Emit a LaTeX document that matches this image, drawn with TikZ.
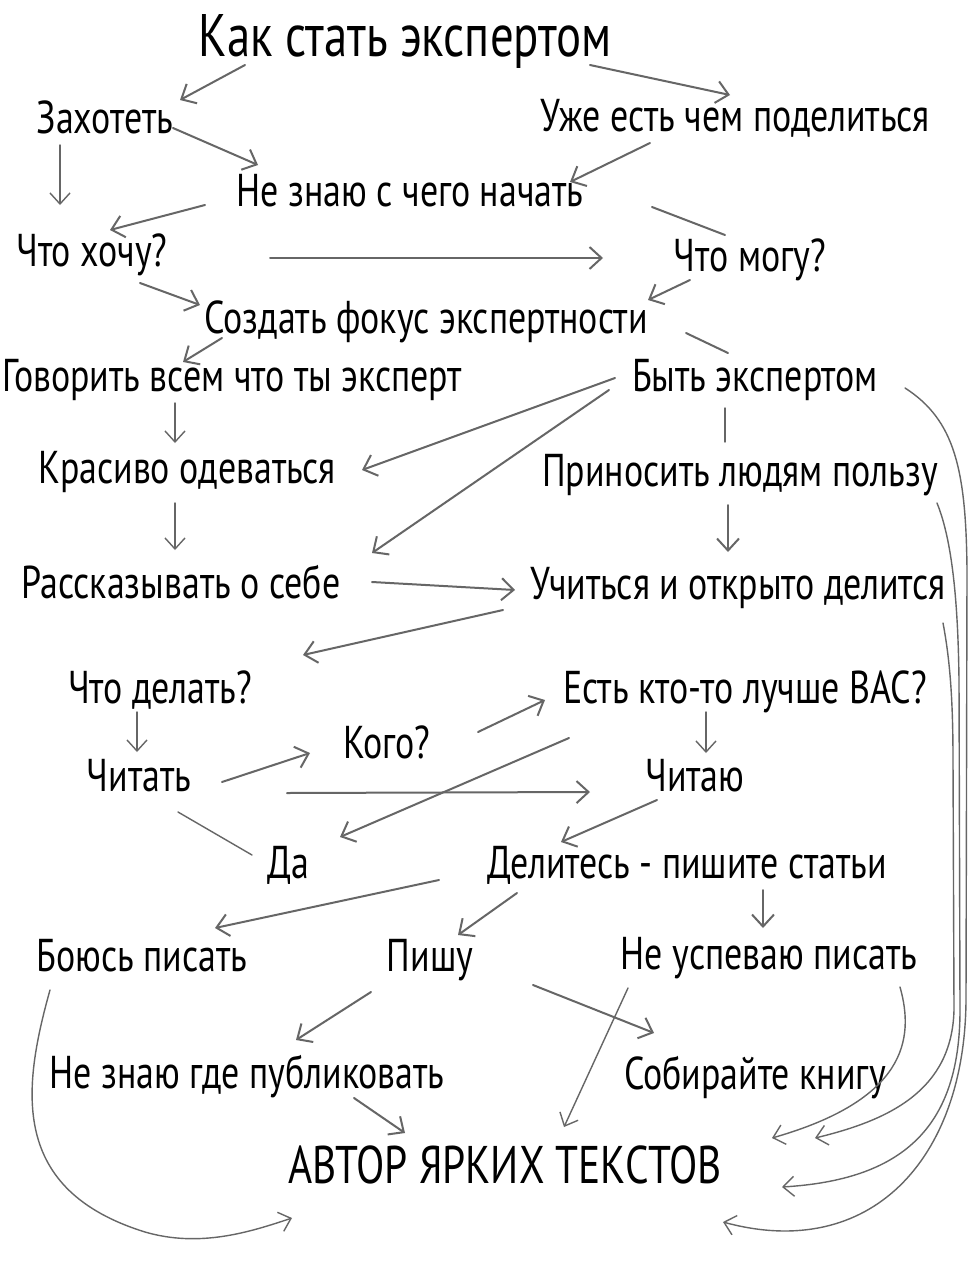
\documentclass[tikz,border=0pt]{standalone}
\usepackage{fontspec}
\setmainfont{PT Sans}[FakeStretch=0.78]
\usetikzlibrary{arrows.meta,calc}
\begin{document}
\begin{tikzpicture}[x=1pt,y=-1pt,
  lab/.style={inner sep=0pt, font=\fontsize{46}{50}\selectfont, text height=32pt, text depth=0pt},
  big/.style={inner sep=0pt, font=\fontsize{60}{66}\selectfont, text height=42pt, text depth=0pt},
  caps/.style={inner sep=0pt, font=\fontsize{53}{58}\selectfont, text height=37pt, text depth=0pt},
  arr/.style={draw=black!60, line width=2pt, line cap=round, -{Straight Barb[length=12pt,width=22pt]}},
  thin/.style={draw=black!60, line width=1.4pt, line cap=round, -{Straight Barb[length=11pt,width=20pt]}},
  ln/.style={draw=black!60, line width=2pt, line cap=round}]
\useasboundingbox (0,0) rectangle (972,1280);
\fill[white] (0,0) rectangle (972,1280);

% nodes
\node[big] (title) at (405,35) {Как стать экспертом};
\node[lab] (zah) at (105,117) {Захотеть};
\node[lab] (uzhe) at (735,115) {Уже есть чем поделиться};
\node[lab] (nz) at (410,190) {Не знаю с чего начать};
\node[lab] (hochu) at (92,250) {Что хочу?};
\node[lab] (mogu) at (750,255) {Что могу?};
\node[lab] (fokus) at (426,317) {Создать фокус экспертности};
\node[lab] (govor) at (232,375) {Говорить всем что ты эксперт};
\node[lab] (byt) at (755,375) {Быть экспертом};
\node[lab] (kras) at (187,467) {Красиво одеваться};
\node[lab] (prin) at (740,470) {Приносить людям пользу};
\node[lab] (rass) at (181,582) {Рассказывать о себе};
\node[lab] (uch) at (738,583) {Учиться и открыто делится};
\node[lab] (chdel) at (160,687) {Что делать?};
\node[lab] (est) at (745,687) {Есть кто-то лучше ВАС?};
\node[lab] (kogo) at (387,742) {Кого?};
\node[lab] (chitat) at (139,775) {Читать};
\node[lab] (chitayu) at (695,775) {Читаю};
\node[lab] (da) at (288,862) {Да};
\node[lab] (delit) at (687,862) {Делитесь - пишите статьи};
\node[lab] (boyus) at (142,955) {Боюсь писать};
\node[lab] (pishu) at (430,955) {Пишу};
\node[lab] (neusp) at (769,953) {Не успеваю писать};
\node[lab] (nzgde) at (247,1072) {Не знаю где публиковать};
\node[lab] (sobir) at (755,1073) {Собирайте книгу};
\node[caps] (avtor) at (505,1165) {АВТОР ЯРКИХ ТЕКСТОВ};

% connectors
\draw[arr] ($(title)+(-160,30)$) -- ($(zah)+(75,-17)$);
\draw[arr] ($(title)+(185,30)$) -- ($(uzhe)+(-5,-20)$);
\draw[arr] ($(zah)+(68,11)$) -- ($(nz)+(-152,-25)$);
\draw[thin] ($(zah)+(-45,28)$) -- ($(hochu)+(-32,-45)$);
\draw[arr] ($(uzhe)+(-85,28)$) -- ($(nz)+(160,-8)$);
\draw[arr] ($(nz)+(-205,15)$) -- ($(hochu)+(18,-20)$);
\draw[ln] ($(nz)+(242,17)$) -- ($(mogu)+(-25,-20)$);
\draw[arr] ($(hochu)+(178,8)$) -- ($(mogu)+(-147,3)$);
\draw[arr] ($(hochu)+(48,33)$) -- ($(fokus)+(-226,-12)$);
\draw[arr] ($(mogu)+(-60,25)$) -- ($(fokus)+(222,-17)$);
\draw[arr] ($(fokus)+(-204,21)$) -- ($(govor)+(-49,-13)$);
\draw[ln] ($(fokus)+(260,16)$) -- ($(byt)+(-27,-22)$);
\draw[thin] ($(govor)+(-57,28)$) -- ($(kras)+(-12,-24)$);
\draw[arr] ($(byt)+(-140,3)$) -- ($(kras)+(175,3)$);
\draw[arr] ($(byt)+(-146,15)$) -- ($(rass)+(191,-29)$);
\draw[thin,-] ($(byt)+(-30,33)$) -- ($(prin)+(-15,-28)$);
\draw[thin] ($(kras)+(-12,36)$) -- ($(rass)+(-6,-32)$);
\draw[arr] ($(prin)+(-12,35)$) -- ($(uch)+(-10,-31)$);
\draw[arr] ($(rass)+(191,0)$) -- ($(uch)+(-223,7)$);
\draw[arr] ($(uch)+(-235,27)$) -- ($(chdel)+(143,-32)$);
\draw[thin] ($(chdel)+(-23,25)$) -- ($(chitat)+(-2,-23)$);
\draw[arr] ($(chitat)+(83,7)$) -- ($(kogo)+(-77,11)$);
\draw[arr] ($(kogo)+(91,-10)$) -- ($(est)+(-200,13)$);
\draw[arr] ($(chitat)+(148,18)$) -- ($(chitayu)+(-105,17)$);
\draw[thin] ($(est)+(-39,25)$) -- ($(chitayu)+(11,-22)$);
\draw[arr] ($(est)+(-176,51)$) -- ($(da)+(52,-25)$);
\draw[thin,-] ($(chitat)+(39,37)$) -- ($(da)+(-36,-7)$);
\draw[arr] ($(chitayu)+(-38,25)$) -- ($(delit)+(-126,-20)$);
\draw[arr] ($(delit)+(-248,18)$) -- ($(boyus)+(73,-27)$);
\draw[arr] ($(delit)+(-170,31)$) -- ($(pishu)+(28,-20)$);
\draw[arr] ($(delit)+(76,28)$) -- ($(neusp)+(-6,-25)$);
\draw[arr] ($(pishu)+(-59,37)$) -- ($(nzgde)+(49,-32)$);
\draw[arr] ($(pishu)+(103,30)$) -- ($(sobir)+(-101,-40)$);
\draw[thin] ($(neusp)+(-141,35)$) -- ($(avtor)+(59,-38)$);
\draw[arr] ($(nzgde)+(107,26)$) -- ($(avtor)+(-100,-32)$);
% long curves
\draw[thin] ($(boyus)+(-92,35)$) .. controls (22,1090) and (10,1190) .. (145,1232)
   .. controls (200,1248) and (250,1232) .. ($(avtor)+(-213,53)$);
\draw[thin] ($(byt)+(150,13)$) .. controls (955,420) and (966,470) .. (967,570)
   -- (966,1000) .. controls (965,1160) and (870,1262) .. ($(avtor)+(218,57)$);
\draw[thin] ($(prin)+(197,33)$) .. controls (952,540) and (958,600) .. (959,680)
   -- (960,1010) .. controls (960,1130) and (900,1180) .. ($(avtor)+(277,22)$);
\draw[thin] ($(uch)+(205,40)$) .. controls (950,660) and (953,700) .. (953,760)
   -- (954,1010) .. controls (952,1090) and (890,1120) .. ($(avtor)+(310,-27)$);
\draw[thin] ($(neusp)+(131,34)$) .. controls (915,1040) and (905,1100) .. ($(avtor)+(267,-27)$);
\end{tikzpicture}
\end{document}
